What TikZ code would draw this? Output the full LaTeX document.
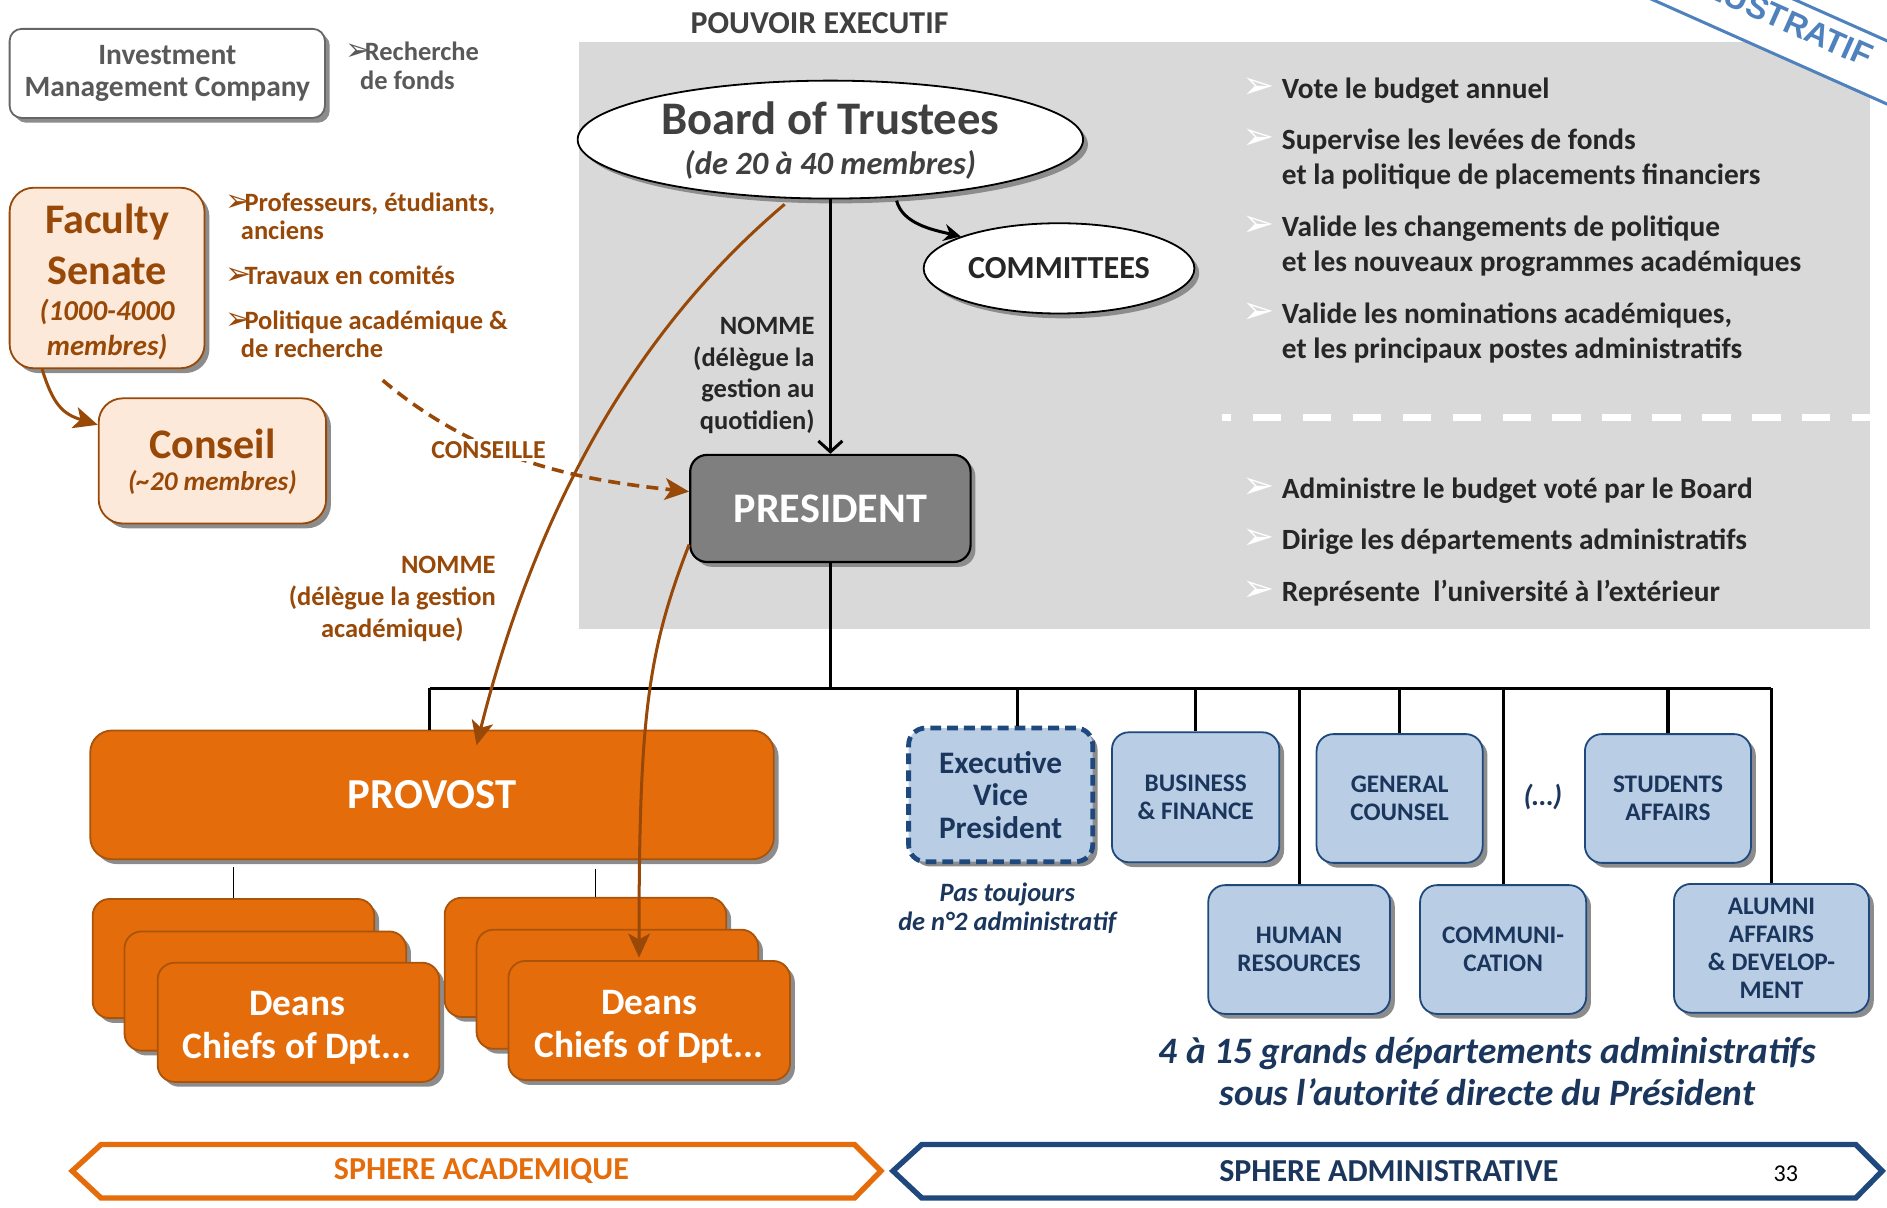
\documentclass[tikz,border=0pt]{standalone}
\usepackage{fontspec}
\setmainfont{Carlito}
\newfontfamily\dejavu{DejaVu Sans}
\newfontfamily\stampfont{Liberation Sans}
\usetikzlibrary{arrows.meta,shadows,shapes.geometric}
\definecolor{panelgray}{HTML}{D9D9D9}
\definecolor{presgray}{HTML}{7F7F7F}
\definecolor{orangeF}{HTML}{E46C0A}
\definecolor{orangeD}{HTML}{A9540A}
\definecolor{brownT}{HTML}{984807}
\definecolor{peach}{HTML}{FDE9D9}
\definecolor{blueF}{HTML}{B9CDE5}
\definecolor{blueD}{HTML}{1F497D}
\definecolor{navyT}{HTML}{1B365D}
\definecolor{stampblue}{HTML}{4F81BD}
\definecolor{darkT}{HTML}{262626}
\definecolor{grayT}{HTML}{595959}
\definecolor{boardT}{HTML}{404040}
\newcommand\fsz[2]{\fontsize{#1}{#2}\selectfont}
\newcommand\wbul{\llap{\textcolor{white}{\dejavu\fsz{32}{32}➢}\hspace{6pt}}}
\newcommand\bbul{\makebox[16pt][l]{\dejavu\fsz{26}{26}➢}}
\begin{document}
\begin{tikzpicture}[x=1pt,y=-1pt,
  shad/.style={drop shadow={shadow xshift=4pt,shadow yshift=-4pt,fill=black!45,opacity=1}},
  investbox/.style={draw=black!60,line width=1.5pt,fill=white,rounded corners=10pt,shad,
    minimum width=262pt,minimum height=74pt,align=center,text=grayT,font=\bfseries\fsz{24.5}{26}},
  facbox/.style={draw=brownT,line width=1.5pt,fill=peach,rounded corners=20pt,shad},
  presbox/.style={draw=black,line width=1.8pt,fill=presgray,rounded corners=14pt,shad,
    text=white,font=\bfseries\fsz{35}{40},minimum width=233pt,minimum height=89pt},
  provbox/.style={draw=orangeD,line width=1.5pt,fill=orangeF,rounded corners=18pt,shad,
    text=white,font=\bfseries\fsz{35.5}{40}},
  deanbox/.style={draw=orangeD,line width=1.5pt,fill=orangeF,rounded corners=14pt,shad,
    minimum width=234pt,minimum height=99pt},
  deantext/.style={text=white,font=\bfseries\fsz{31}{36},align=center},
  admbox/.style={draw=blueD,line width=1.5pt,fill=blueF,rounded corners=14pt,shad,
    text=navyT,font=\bfseries\fsz{21}{23},align=center},
  ovalbox/.style={ellipse,draw=black,line width=1.5pt,fill=white,shad},
  conn/.style={draw=black,line width=2.5pt},
  brownarrow/.style={draw=brownT,line width=2.5pt,-{Stealth[length=20pt,width=18pt,inset=5pt]}},
  pitem/.style={anchor=west,inner sep=0pt,align=left,text=darkT,font=\bfseries\fsz{24.4}{29.5}},
  fbullet/.style={anchor=west,inner sep=0pt,align=left,text=brownT,font=\bfseries\fsz{22}{23.5}},
  browntext/.style={text=brownT,font=\bfseries\fsz{22}{26}},
]
\useasboundingbox (0,0) rectangle (1568,1003);
% executive panel
\fill[panelgray] (481,35) rectangle (1554,523);
% stamp
\node[draw=stampblue,line width=2.5pt,fill=white,rotate=-24,minimum width=420pt,minimum height=48pt] (stampbox) at (1480,21) {};
\node[rotate=-24,text=stampblue,font=\stampfont\bfseries\fsz{27}{30},inner sep=0pt] (stamptext) at (1476,13) {ILLUSTRATIF};

\node[text=boardT,font=\bfseries\fsz{26.5}{30}] (pouvoir) at (681,19) {POUVOIR EXECUTIF};

% left column
\node[investbox] (invest) at (139,61) {Investment\\Management Company};
\node[anchor=west,inner sep=0pt,align=left,text=grayT,font=\bfseries\fsz{22}{24}] (recherche) at (287,55) {\bbul Recherche\\\hspace*{12pt}de fonds};

\node[facbox,minimum width=162pt,minimum height=150pt] (faculty) at (89,231) {};
\node[text=brownT,font=\bfseries\fsz{35}{42},align=center] (facT) at (89,203) {Faculty\\Senate};
\node[text=brownT,font=\bfseries\itshape\fsz{24}{29},align=center] (facM) at (89,274) {(1000-4000\\membres)};

\node[facbox,minimum width=189pt,minimum height=104pt] (conseil) at (176.5,383) {};
\node[text=brownT,font=\bfseries\fsz{35}{40}] (conT) at (176.5,369) {Conseil};
\node[text=brownT,font=\bfseries\itshape\fsz{22.5}{27}] (conM) at (176.5,401) {(\textasciitilde20 membres)};

\node[fbullet] (fb1) at (187,179.5) {\bbul Professeurs, étudiants,\\\hspace*{13pt}anciens};
\node[fbullet] (fb2) at (187,229) {\bbul Travaux en comités};
\node[fbullet] (fb3) at (187,278) {\bbul Politique académique \&\\\hspace*{13pt}de recherche};

% board and committees
\node[ovalbox,minimum width=420pt,minimum height=98pt] (board) at (690,116) {};
\node[text=boardT,font=\bfseries\fsz{38.8}{42}] (boardT) at (690,98) {Board of Trustees};
\node[text=boardT,font=\bfseries\itshape\fsz{27}{30}] (boardM) at (690,137) {(de 20 à 40 membres)};
\node[ovalbox,minimum width=225pt,minimum height=75pt,text=darkT,font=\bfseries\fsz{26.7}{30}] (committees) at (880,223) {COMMITTEES};

% right panel items
\node[pitem] (v1) at (1065,75) {\wbul Vote le budget annuel};
\node[pitem] (v2) at (1065,132) {\wbul Supervise les levées de fonds\\et la politique de placements financiers};
\node[pitem] (v3) at (1065,204.5) {\wbul Valide les changements de politique\\et les nouveaux programmes académiques};
\node[pitem] (v4) at (1065,276.5) {\wbul Valide les nominations académiques,\\et les principaux postes administratifs};
\coordinate (sepL) at (1015,347);
\coordinate (sepR) at (1554,347);
\draw[white,line width=6pt,dash pattern=on 23.5pt off 18pt,dash phase=15.5pt] (sepL) -- (sepR);
\node[pitem] (a1) at (1065,408) {\wbul Administre le budget voté par le Board};
\node[pitem] (a2) at (1065,450) {\wbul Dirige les départements administratifs};
\node[pitem] (a3) at (1065,493) {\wbul Représente\ \ l’université à l’extérieur};

% president
\node[presbox] (president) at (690,422.5) {PRESIDENT};
\node[anchor=east,align=right,text=darkT,font=\bfseries\fsz{22}{26.3},inner sep=0pt] (nommeN) at (677,312) {NOMME\\(délègue la\\gestion au\\quotidien)};

% provost and deans
\node[provbox,minimum width=568pt,minimum height=107pt] (provost) at (359,660.5) {PROVOST};
\node[deanbox] (deansLb) at (194,796.5) {};
\node[deanbox] (deansLm) at (220.5,823.5) {};
\node[deanbox] (deansLf) at (248,849.5) {};
\node[deantext] (deansLt) at (247,854) {Deans\\Chiefs of Dpt...};
\node[deanbox] (deansRb) at (486.5,795.5) {};
\node[deanbox] (deansRm) at (513,822) {};
\node[deanbox] (deansRf) at (539.5,848) {};
\node[deantext] (deansRt) at (539.5,853) {Deans\\Chiefs of Dpt...};
\draw[black,line width=1pt] ([yshift=-6pt]deansLb.north |- provost.south) -- (deansLb.north);
\draw[black,line width=1pt] ([xshift=8pt,yshift=-7pt]deansRb.north |- provost.south) -- ([xshift=8pt]deansRb.north);

% administrative boxes
\node[admbox,dash pattern=on 9pt off 5pt,line width=4pt,font=\bfseries\fsz{26}{27},minimum width=153pt,minimum height=111pt] (evp) at (831.5,660.5) {Executive\\Vice\\President};
\node[admbox,minimum width=139pt,minimum height=108pt] (business) at (993.5,662.5) {BUSINESS\\\&~FINANCE};
\node[admbox,minimum width=138pt,minimum height=107pt] (general) at (1163,663.5) {GENERAL\\COUNSEL};
\node[admbox,minimum width=138pt,minimum height=107pt] (students) at (1386,663.5) {STUDENTS\\AFFAIRS};
\node[admbox,minimum width=151pt,minimum height=107pt] (human) at (1079.5,789) {HUMAN\\RESOURCES};
\node[admbox,minimum width=138pt,minimum height=107pt] (communi) at (1249,789) {COMMUNI-\\CATION};
\node[admbox,minimum width=162pt,minimum height=107pt] (alumni) at (1472,788) {ALUMNI\\AFFAIRS\\\&~DEVELOP-\\MENT};
\node[text=navyT,font=\bfseries\itshape\fsz{24}{28}] (etc) at (1282,662) {(…)};
\node[text=navyT,font=\bfseries\itshape\fsz{22}{24},align=center] (pastouj) at (837,755) {Pas toujours\\de n°2 administratif};
\node[text=navyT,font=\bfseries\itshape\fsz{31}{35},align=center] (caption) at (1236,890.5) {4 à 15 grands départements administratifs\\sous l’autorité directe du Président};

% hierarchy lines
\coordinate (barL) at (357,572);
\draw[conn] (president.south) -- (president.south |- barL);
\draw[black,line width=3pt] (barL) -- (alumni.north |- barL);
\draw[conn] (barL) -- (barL |- provost.north);
\draw[conn] ([xshift=14pt]evp.north |- barL) -- ([xshift=14pt]evp.north);
\draw[conn] (business.north |- barL) -- (business.north);
\draw[conn] (general.north |- barL) -- (general.north);
\draw[conn] (students.north |- barL) -- (students.north);
\draw[conn] (human.north |- barL) -- (human.north);
\draw[conn] (communi.north |- barL) -- (communi.north);
\draw[conn] (alumni.north |- barL) -- (alumni.north);

% black arrows
\draw[line width=2.5pt,-{Straight Barb[length=9pt,width=20pt]}] (board.south) -- (president.north);
\draw[line width=2.5pt,-{Stealth[length=14pt,width=14pt]}] ([xshift=55pt,yshift=-1pt]board.south) .. controls (750,186) and (775,191) .. (committees.162);

% brown arrows
\draw[brownarrow] ([xshift=-38pt,yshift=-4pt]board.south) .. controls (502,296.5) and (433.5,470) .. ([xshift=37pt,yshift=-13pt]provost.north);
\draw[brownarrow] ([yshift=-30pt]president.west) .. controls (538,542) and (531,596) .. ([xshift=-8.5pt,yshift=2pt]deansRf.north);
\draw[brownarrow] ([xshift=-54pt]faculty.south) .. controls (44,336) and (52,344) .. ([yshift=30pt]conseil.west);
\coordinate (cstart) at (318,316);
\draw[brownarrow,line width=3pt,dash pattern=on 10pt off 6pt] (cstart) .. controls (398,384) and (483,399) .. ([yshift=14pt]president.west);
\node[fill=white,inner sep=2pt,text=brownT,font=\bfseries\fsz{21.5}{24}] (conseille) at (406,374) {CONSEILLE};
\node[anchor=east,inner sep=0pt,browntext] (nommeB1) at (412,469) {NOMME};
\node[browntext,align=center,inner sep=0pt] (nommeB2) at (326,510) {(délègue la gestion\\académique)};

% spheres
\draw[orangeF,line width=4.5pt,line join=miter] (60,973) -- (84,951) -- (710,951) -- (732,973) -- (710,995.5) -- (84,995.5) -- cycle;
\node[text=orangeF,font=\bfseries\fsz{26.6}{30}] (sphereA) at (400,973) {SPHERE ACADEMIQUE};
\draw[blueD,line width=4.5pt,line join=miter] (742,973) -- (766,951) -- (1542,951) -- (1564,973) -- (1542,995.5) -- (766,995.5) -- cycle;
\node[text=navyT,font=\bfseries\fsz{26.6}{30}] (sphereB) at (1154,973) {SPHERE ADMINISTRATIVE};
\node[text=black,font=\fsz{20}{24}] (pagenum) at (1484,975) {33};
\end{tikzpicture}
\end{document}
